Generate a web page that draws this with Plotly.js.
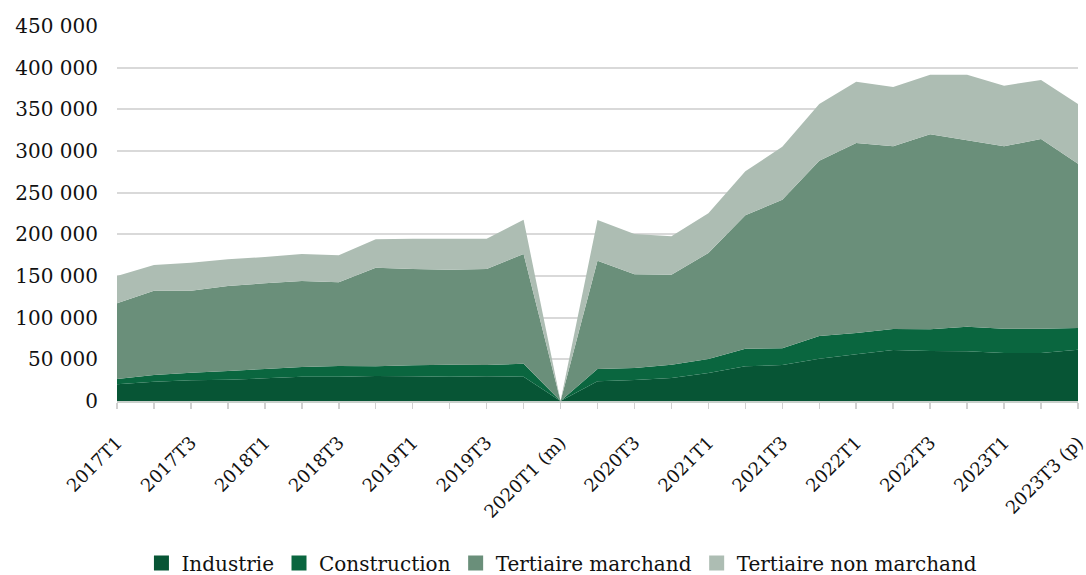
<!DOCTYPE html>
<html>
<head>
<meta charset="utf-8">
<script src="https://cdn.plot.ly/plotly-3.0.1.min.js"></script>
<style>html,body{margin:0;padding:0;background:#fff;}#chart{width:1086px;height:575px;}</style>
</head>
<body>
<div id="chart"></div>
<script>
const quarters = ["2017T1","2017T2","2017T3","2017T4","2018T1","2018T2","2018T3","2018T4","2019T1","2019T2","2019T3","2019T4","2020T1 (m)","2020T2","2020T3","2020T4","2021T1","2021T2","2021T3","2021T4","2022T1","2022T2","2022T3","2022T4","2023T1","2023T2","2023T3 (p)"];
const tickLabels = ["2017T1","","2017T3","","2018T1","","2018T3","","2019T1","","2019T3","","2020T1 (m)","","2020T3","","2021T1","","2021T3","","2022T1","","2022T3","","2023T1","","2023T3 (p)"];

const industrie = [20000,23200,24800,25600,27200,29200,29200,30000,29600,29200,29600,29200,0,23600,25200,27600,33600,41600,43200,50800,56000,61200,60000,59600,57600,57600,61600];
const construction = [6400,8000,9200,10400,11200,11600,12800,11600,13200,14400,13600,15600,0,14800,14400,16000,16800,21200,20000,27200,25600,25200,26000,29600,29200,29200,26000];
const tertiaireMarchand = [90800,101200,98400,102000,102800,103200,100400,118400,115600,114000,115200,131600,0,130000,112400,108000,127200,160000,178400,210400,228000,219200,234000,223600,218800,227600,197200];
const tertiaireNonMarchand = [32800,30800,33600,32000,31600,32400,32400,34000,36400,37200,36400,41200,0,48800,48400,46000,47600,52800,63600,68000,73600,71200,71600,78800,72800,70800,71600];

const seriesNames = ["Industrie","Construction","Tertiaire marchand","Tertiaire non marchand"];
const seriesValues = [industrie, construction, tertiaireMarchand, tertiaireNonMarchand];
const colors = ["#075535","#0a663f","#6a8f7a","#adbdb3"];

const areaTraces = seriesNames.map((n,i)=>({
  type:"scatter", mode:"none", name:n, x:quarters, y:seriesValues[i],
  stackgroup:"one", fillcolor:colors[i], hoverinfo:"skip", showlegend:false
}));
// legend-only square markers
const legendTraces = seriesNames.map((n,i)=>({
  type:"scatter", mode:"markers", name:n, x:[null], y:[null],
  marker:{symbol:"square", size:15, color:colors[i]}, hoverinfo:"skip", showlegend:true
}));

const fontFam = "DejaVu Serif, Liberation Serif, serif";
const layout = {
  width:1086, height:575,
  margin:{l:117, r:8, t:26, b:174, autoexpand:false},
  paper_bgcolor:"#fff", plot_bgcolor:"#fff",
  font:{family:fontFam, size:20, color:"#111"},
  showlegend:true,
  legend:{orientation:"h", x:0.463, xanchor:"center", y:-0.432, yanchor:"middle",
    font:{family:fontFam, size:20, color:"#111"}, itemwidth:30, traceorder:"normal"},
  xaxis:{type:"category", range:[0,26], tickmode:"array", tickvals:quarters, ticktext:tickLabels,
    tickangle:-45, ticks:"outside", ticklen:6, tickcolor:"#d0d0d0", tickwidth:1.5,
    ticklabelstandoff:16, automargin:false,
    showline:true, linecolor:"#c9cfcb", linewidth:2, showgrid:false, zeroline:false,
    tickfont:{family:fontFam, size:18, color:"#111"}},
  yaxis:{range:[0,450000], dtick:50000, tickformat:",", automargin:false,
    ticklabelstandoff:18,
    showgrid:true, gridcolor:"#d9d9d9", gridwidth:2, zeroline:false, showline:false,
    ticks:"", ticklen:0, tickfont:{family:fontFam, size:20, color:"#111"}},
  separators:", "
};
Plotly.newPlot("chart", areaTraces.concat(legendTraces), layout, {displayModeBar:false, staticPlot:true});
</script>
</body>
</html>
